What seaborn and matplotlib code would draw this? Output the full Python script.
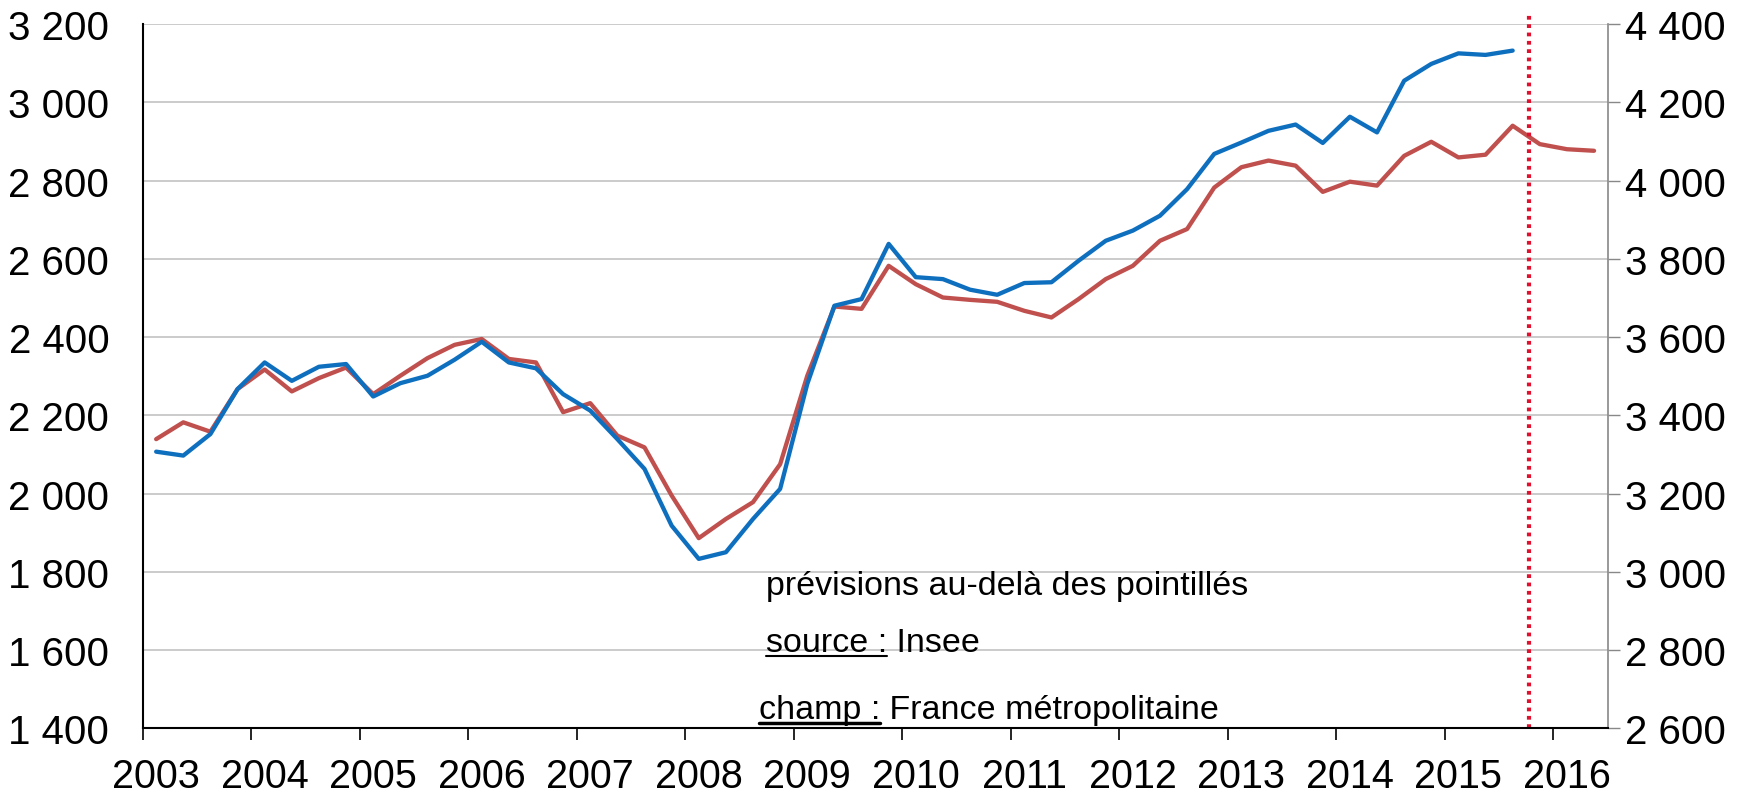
import numpy as np
import pandas as pd
import matplotlib.pyplot as plt
import matplotlib.ticker as mticker
from matplotlib.lines import Line2D
import seaborn as sns

sns.set_style("white")
plt.rcParams['font.family'] = ['Liberation Sans', 'DejaVu Sans']
plt.rcParams['text.color'] = 'black'

# quarterly series, 2003T1 -> 2016T2
years = list(range(2003, 2017))
quarters = [f"{y}T{q}" for y in years for q in range(1, 5)][:54]

# left axis (blue), known up to 2015T3
blue = [2107, 2097, 2152, 2267, 2335, 2288, 2324, 2331, 2248, 2282, 2301, 2342,
        2388, 2335, 2320, 2254, 2212, 2139, 2063, 1918, 1833, 1850, 1935, 2012,
        2280, 2480, 2497, 2638, 2553, 2548, 2521, 2508, 2538, 2540, 2595, 2646,
        2672, 2710, 2778, 2868, 2897, 2927, 2943, 2896, 2963, 2923, 3055, 3098,
        3125, 3121, 3132]
# right axis (red), with forecast up to 2016T2
red = [3339, 3382, 3358, 3467, 3517, 3461, 3495, 3522, 3454, 3501, 3546, 3580,
       3595, 3544, 3535, 3408, 3431, 3348, 3318, 3195, 3086, 3135, 3178, 3275,
       3501, 3678, 3672, 3782, 3735, 3701, 3695, 3690, 3667, 3650, 3697, 3748,
       3782, 3846, 3876, 3982, 4034, 4051, 4038, 3971, 3997, 3987, 4063, 4099,
       4059, 4066, 4140, 4093, 4080, 4076]
forecast_start = 51.1  # dotted line, in quarter units

left_ticks = [1400, 1600, 1800, 2000, 2200, 2400, 2600, 2800, 3000, 3200]
right_ticks = [2600, 2800, 3000, 3200, 3400, 3600, 3800, 4000, 4200, 4400]

df_blue = pd.DataFrame({"pos": np.arange(len(blue)) + 0.5, "val": blue})
df_red = pd.DataFrame({"pos": np.arange(len(red)) + 0.5, "val": red})

BLUE = "#0F6FBF"
RED = "#C0504D"
GRID = "#BDBDBD"

fig = plt.figure(figsize=(17.56, 8.04), dpi=100)
ax = fig.add_axes([0.0812, 0.0929, 0.9155 - 0.0812, 0.9689 - 0.0929])
ax2 = ax.twinx()

# red on the back axes, blue on top
sns.lineplot(data=df_red, x="pos", y="val", ax=ax2, color=RED, linewidth=3.1)
sns.lineplot(data=df_blue, x="pos", y="val", ax=ax, color=BLUE, linewidth=3.1)
ax.set_zorder(ax2.get_zorder() + 1)
ax.patch.set_visible(False)

fmt = mticker.FuncFormatter(lambda v, p: f"{int(v):,}".replace(",", " "))

ax.set_xlim(0, len(quarters))
ax.set_ylim(1400, 3200)
ax2.set_ylim(2600, 4400)
ax.set_yticks(left_ticks)
ax2.set_yticks(right_ticks)
ax.yaxis.set_major_formatter(fmt)
ax2.yaxis.set_major_formatter(fmt)

# year boundaries as major ticks, year labels under first quarter
ax.set_xticks(np.arange(0, len(quarters), 4))
ax.set_xticklabels([])
ax.set_xticks(np.arange(0, len(quarters), 4) + 0.5, minor=True)
ax.set_xticklabels([str(y) for y in years], minor=True)
ax.tick_params(axis="x", which="major", length=8.6, width=1.2, color="black", direction="out", bottom=True)
ax.tick_params(axis="x", which="minor", length=0, pad=21, labelsize=28.5, labelcolor="black")
ax.tick_params(axis="y", length=0, pad=24, labelsize=29, left=True, labelcolor="black")
ax2.tick_params(axis="y", length=8.6, width=1, color="#888888", pad=4, labelsize=29, right=True,
                labelcolor="black")

# grid drawn on back axes
ax2.set_xticks(np.arange(0, len(quarters), 4))
ax2.grid(True, axis="both", color=GRID, linewidth=1.1)
ax2.set_axisbelow(True)
ax.grid(False)

for a in (ax, ax2):
    a.set_xlabel("")
    a.set_ylabel("")
    a.spines["top"].set_visible(False)
ax.spines["right"].set_visible(False)
ax.spines["left"].set_color("black")
ax.spines["left"].set_linewidth(1.5)
ax.spines["bottom"].set_color("black")
ax.spines["bottom"].set_linewidth(1.5)
ax2.spines["left"].set_visible(False)
ax2.spines["bottom"].set_visible(False)
ax2.spines["right"].set_color("#888888")
ax2.spines["right"].set_linewidth(1.2)

ax.axvline(forecast_start, ymin=0, ymax=1.014, clip_on=False, color="#E0102F",
           linestyle=(0, (0.9, 1.1)), linewidth=3)

# notes
fs = 24.5
fig.text(0.4362, 0.2711, "prévisions au-delà des pointillés", fontsize=fs, va="center")


def underlined(x, y, label, rest, lw):
    t = fig.text(x, y, label, fontsize=fs, va="center")
    fig.canvas.draw()
    bb = t.get_window_extent().transformed(fig.transFigure.inverted())
    fig.add_artist(Line2D([bb.x0, bb.x1], [bb.y0 + 0.002, bb.y0 + 0.002],
                          transform=fig.transFigure, color="black", linewidth=lw))
    fig.text(bb.x1, y, " " + rest, fontsize=fs, va="center")


underlined(0.4362, 0.2002, "source :", "Insee", 1.5)
underlined(0.4322, 0.1169, "champ :", "France métropolitaine", 2.5)

fig.savefig("out.png", dpi=100, facecolor="white")
